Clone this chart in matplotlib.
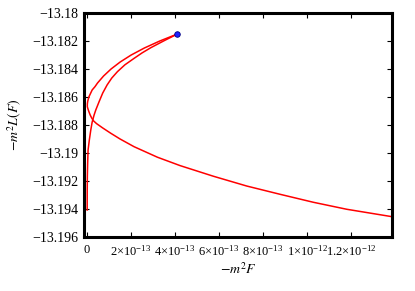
import matplotlib
matplotlib.use("Agg")
import matplotlib.pyplot as plt
from matplotlib.ticker import FixedLocator, FixedFormatter

plt.rcParams['font.family'] = ['Liberation Serif', 'DejaVu Serif']
plt.rcParams['mathtext.fontset'] = 'stix'

# outer branch (x in units of 1e-13)
outer_x = [4.105, 3.305, 2.899, 2.605, 2.149, 2.005, 1.505, 1.43, 1.09, 0.798,
           0.75, 0.475, 0.36, 0.23, 0.08, 0.03, 0.012, 0.012, 0.05, 0.095, 0.145,
           0.21, 0.29, 0.43, 0.70, 1.077, 1.5, 2.136, 3.195, 4.227, 5.741, 7.259,
           8.773, 10.286, 11.805, 13.864]
outer_y = [-13.18150, -13.18200, -13.18229, -13.18250, -13.18288, -13.18300,
           -13.18350, -13.18359, -13.18400, -13.18443, -13.18450, -13.18500,
           -13.18526, -13.18550, -13.18600, -13.18630, -13.18650, -13.18670,
           -13.18690, -13.18710, -13.18730, -13.18750, -13.18770, -13.18790,
           -13.18820, -13.18859, -13.18900, -13.18955, -13.19030, -13.19090,
           -13.19166, -13.19236, -13.19295, -13.19352, -13.19402, -13.19455]
# inner branch
inner_x = [4.105, 3.5, 2.895, 2.5, 2.136, 1.72, 1.38, 1.12, 0.91, 0.71, 0.545,
           0.395, 0.318, 0.23, 0.168, 0.10, 0.045, 0.025, 0.012, 0.006, 0.004]
inner_y = [-13.18150, -13.18198, -13.18248, -13.18285, -13.18324, -13.18370,
           -13.18419, -13.18465, -13.18514, -13.18572, -13.18634, -13.18693,
           -13.18729, -13.18780, -13.18836, -13.18910, -13.18979, -13.19080,
           -13.19169, -13.19280, -13.19407]
point_x = [4.105]
point_y = [-13.18150]

xticks = [0, 2e-13, 4e-13, 6e-13, 8e-13, 1e-12, 1.2e-12]
xticklabels = ['0', r'$\mathregular{2{\times}10^{-13}}$', r'$\mathregular{4{\times}10^{-13}}$',
               r'$\mathregular{6{\times}10^{-13}}$', r'$\mathregular{8{\times}10^{-13}}$',
               r'$\mathregular{1{\times}10^{-12}}$', r'$\mathregular{1.2{\times}10^{-12}}$']
yticks = [-13.18, -13.182, -13.184, -13.186, -13.188, -13.19, -13.192, -13.194, -13.196]
yticklabels = ['\u221213.18', '\u221213.182', '\u221213.184', '\u221213.186', '\u221213.188',
               '\u221213.19', '\u221213.192', '\u221213.194', '\u221213.196']

fig = plt.figure(figsize=(4.15, 2.91), dpi=100)
ax = fig.add_axes([84/415, 1-237/291, (392-84)/415, (237-13)/291])

sc = 1e-13
ax.plot([v*sc for v in outer_x], outer_y, color='#ff0000', lw=1.1)
ax.plot([v*sc for v in inner_x], inner_y, color='#ff0000', lw=1.1)
ax.plot([v*sc for v in point_x], point_y, 'o', color='#2020ff', mec='#000080',
        mew=0.6, ms=4, zorder=5)

ax.set_xlim(-0.14e-13, 13.86e-13)
ax.set_ylim(-13.196, -13.18)
ax.xaxis.set_major_locator(FixedLocator(xticks))
ax.xaxis.set_major_formatter(FixedFormatter(xticklabels))
ax.yaxis.set_major_locator(FixedLocator(yticks))
ax.yaxis.set_major_formatter(FixedFormatter(yticklabels))
ax.tick_params(direction='in', length=3.5, width=0.8, top=True, right=True, pad=4)
ax.tick_params(axis='y', labelsize=10)
ax.tick_params(axis='x', labelsize=9, pad=5)
for s in ax.spines.values():
    s.set_linewidth(2.2)

ax.set_xlabel(r'$-m^2F$', fontsize=10, labelpad=2)
ax.set_ylabel(r'$-m^2L(F)$', fontsize=10, labelpad=6)

fig.savefig('out.png', dpi=100)
